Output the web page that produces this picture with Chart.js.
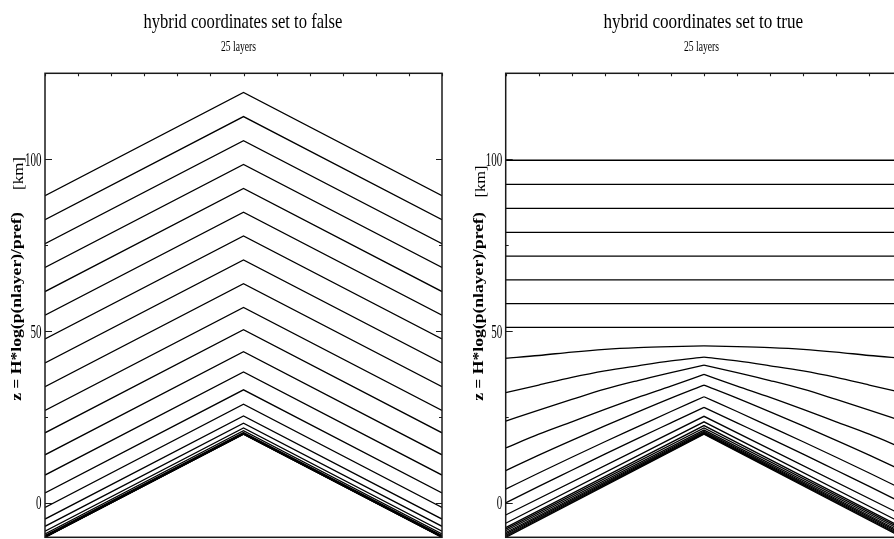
<!DOCTYPE html>
<html>
<head>
<meta charset="utf-8">
<script src="https://cdn.jsdelivr.net/npm/chart.js@4.4.1/dist/chart.umd.min.js"></script>
<style>
  html, body { margin: 0; padding: 0; background: #fff; overflow: hidden; }
  #wrap { position: relative; width: 894px; height: 539px; overflow: hidden; background: #fff; }
  .cv { position: absolute; top: 0; }
  .txt { position: absolute; white-space: nowrap; line-height: 1; color: #000;
         font-family: "Liberation Serif", "Times New Roman", serif; transform-origin: 50% 50%; }
  .ylab { font-weight: bold; font-size: 15px; }
  .ykm { font-size: 17px; }
</style>
</head>
<body>
<div id="wrap">
  <canvas id="c1" class="cv" width="460" height="539" style="left:0px;width:460px;height:539px"></canvas>
  <canvas id="c2" class="cv" width="460" height="539" style="left:462px;width:460px;height:539px"></canvas>
  <div class="txt" id="t1" style="font-size:22px">hybrid coordinates set to false</div>
  <div class="txt" id="s1" style="font-size:14px">25 layers</div>
  <div class="txt" id="t2" style="font-size:22px">hybrid coordinates set to true</div>
  <div class="txt" id="s2" style="font-size:14px">25 layers</div>
  <div class="txt ylab" id="yl1">z = H*log(p(nlayer)/pref)</div>
  <div class="txt ykm" id="yk1">[km]</div>
  <div class="txt ylab" id="yl2">z = H*log(p(nlayer)/pref)</div>
  <div class="txt ykm" id="yk2">[km]</div>
</div>
<script>
// ---------------- data ----------------
const TITLE_LEFT = "hybrid coordinates set to false";
const TITLE_RIGHT = "hybrid coordinates set to true";
const SUBTITLE = "25 layers";
const Y_AXIS_LABEL = "z = H*log(p(nlayer)/pref)";
const Y_AXIS_UNIT = "[km]";

const Y_MIN = -10, Y_MAX = 125;
const X_MIN = 0, X_MAX = 12;
const Y_MAJOR_TICKS = [0, 50, 100];
const Y_MINOR_TICKS = [25, 75];
const X_TICKS = [0, 1, 2, 3, 4, 5, 6, 7, 8, 9, 10, 11, 12];

// x positions: edge / centre / edge, and the two halves for curved lines
const X_EDGE_PEAK = [0, 6, 12];
const X_LEFT_HALF = [0, 1, 2, 3, 4, 5, 6];
const X_RIGHT_HALF = [6, 7, 8, 9, 10, 11, 12];

// left panel (hybrid = false): 25 layer interfaces, values at x = 0, 6, 12
const LEFT_LINES = [
  [89.4, 119.4, 89.4],
  [82.4, 112.4, 82.4],
  [75.4, 105.4, 75.4],
  [68.5, 98.5, 68.5],
  [61.5, 91.5, 61.5],
  [54.6, 84.6, 54.6],
  [47.7, 77.7, 47.7],
  [40.7, 70.7, 40.7],
  [33.8, 63.8, 33.8],
  [26.9, 56.9, 26.9],
  [20.4, 50.4, 20.4],
  [14.0, 44.0, 14.0],
  [8.1, 38.1, 8.1],
  [2.9, 32.9, 2.9],
  [-1.3, 28.7, -1.3],
  [-4.7, 25.3, -4.7],
  [-6.8, 23.2, -6.8],
  [-8.2, 21.8, -8.2],
  [-9.0, 21.0, -9.0],
  [-9.5, 20.5, -9.5],
  [-9.75, 20.25, -9.75],
  [-9.88, 20.12, -9.88],
  [-9.95, 20.05, -9.95],
  [-9.98, 20.02, -9.98],
  [-10, 20, -10]
];

// right panel (hybrid = true): flat pressure levels, values at x = 0, 6, 12
const RIGHT_FLAT = [
  [99.7, 99.7, 99.7],
  [92.7, 92.7, 92.7],
  [85.7, 85.7, 85.7],
  [78.7, 78.7, 78.7],
  [71.8, 71.8, 71.8],
  [64.9, 64.9, 64.9],
  [58.0, 58.0, 58.0],
  [51.1, 51.1, 51.1]
];
// right panel: transition levels, values at x = 0..12
const RIGHT_CURVED = [
  [42.1, 42.9, 43.9, 44.7, 45.2, 45.5, 45.7, 45.5, 45.2, 44.7, 43.9, 42.9, 42.1],
  [32.1, 34.3, 36.5, 38.4, 39.9, 41.3, 42.4, 41.3, 39.9, 38.4, 36.5, 34.3, 32.1],
  [23.8, 27.0, 30.1, 33.1, 35.6, 37.9, 40.1, 37.9, 35.6, 33.1, 30.1, 27.0, 23.8],
  [16.0, 20.0, 23.6, 27.2, 30.7, 34.0, 37.4, 34.0, 30.7, 27.2, 23.6, 20.0, 16.0],
  [9.4, 13.9, 18.2, 22.4, 26.5, 30.5, 34.3, 30.5, 26.5, 22.4, 18.2, 13.9, 9.4],
  [4.0, 8.7, 13.3, 17.8, 22.2, 26.6, 30.9, 26.6, 22.2, 17.8, 13.3, 8.7, 4.0],
  [0.0, 4.8, 9.5, 14.2, 18.8, 23.3, 27.8, 23.3, 18.8, 14.2, 9.5, 4.8, 0.0]
];
// right panel: terrain-following levels, values at x = 0, 6, 12
const RIGHT_STRAIGHT = [
  [-3.5, 25.2, -3.5],
  [-5.9, 23.6, -5.9],
  [-7.2, 22.5, -7.2],
  [-7.6, 21.8, -7.6],
  [-8.1, 21.2, -8.1],
  [-8.6, 20.8, -8.6],
  [-9.0, 20.5, -9.0],
  [-9.4, 20.3, -9.4],
  [-9.7, 20.15, -9.7],
  [-10, 20, -10]
];

// ---------------- helpers ----------------
function pts(xs, ys) { return xs.map((x, i) => ({ x: x, y: ys[i] })); }
function lineDs(data, curved) {
  return {
    data: data, borderColor: '#000', borderWidth: 1.3, pointRadius: 0,
    fill: false, tension: 0, cubicInterpolationMode: curved ? 'monotone' : 'default'
  };
}

const framePlugin = {
  id: 'frame',
  afterDraw(chart) {
    const ctx = chart.ctx, a = chart.chartArea, xs = chart.scales.x, ys = chart.scales.y;
    ctx.save();
    ctx.strokeStyle = '#1a1a1a';
    ctx.lineWidth = 1.5;
    ctx.strokeRect(a.left, a.top, a.right - a.left, a.bottom - a.top);
    ctx.lineWidth = 1.1;
    ctx.beginPath();
    Y_MAJOR_TICKS.forEach(v => {
      const py = Math.round(ys.getPixelForValue(v)) + 0.5;
      ctx.moveTo(a.left, py); ctx.lineTo(a.left + 7, py);
      ctx.moveTo(a.right, py); ctx.lineTo(a.right - 6, py);
    });
    Y_MINOR_TICKS.forEach(v => {
      const py = Math.round(ys.getPixelForValue(v)) + 0.5;
      ctx.moveTo(a.left, py); ctx.lineTo(a.left + 3, py);
      ctx.moveTo(a.right, py); ctx.lineTo(a.right - 3, py);
    });
    X_TICKS.forEach(v => {
      const px = Math.round(xs.getPixelForValue(v)) + 0.5;
      ctx.moveTo(px, a.top); ctx.lineTo(px, a.top + 3);
    });
    ctx.stroke();
    ctx.fillStyle = '#000';
    ctx.font = '19px "Liberation Serif"';
    ctx.textAlign = 'right';
    ctx.textBaseline = 'middle';
    Y_MAJOR_TICKS.forEach(v => {
      const py = ys.getPixelForValue(v);
      ctx.save();
      ctx.translate(a.left - 3.5, py + 1.5);
      ctx.scale(0.58, 1);
      ctx.fillText(String(v), 0, 0);
      ctx.restore();
    });
    ctx.restore();
  }
};

function makeChart(id, datasets, pad) {
  return new Chart(document.getElementById(id), {
    type: 'line',
    data: { datasets: datasets },
    options: {
      responsive: false,
      animation: false,
      events: [],
      layout: { padding: pad },
      plugins: { legend: { display: false }, tooltip: { enabled: false }, title: { display: false } },
      scales: {
        x: { type: 'linear', min: X_MIN, max: X_MAX, display: false },
        y: { type: 'linear', min: Y_MIN, max: Y_MAX, display: false }
      }
    },
    plugins: [framePlugin]
  });
}

// left chart
const leftDs = LEFT_LINES.map(v => lineDs(pts(X_EDGE_PEAK, v), false));
makeChart('c1', leftDs, { left: 45, right: 18, top: 73.3, bottom: 1.7 });

// right chart
const rightDs = [];
RIGHT_FLAT.forEach(v => rightDs.push(lineDs(pts(X_EDGE_PEAK, v), false)));
RIGHT_CURVED.forEach(v => {
  rightDs.push(lineDs(pts(X_LEFT_HALF, v.slice(0, 7)), true));
  rightDs.push(lineDs(pts(X_RIGHT_HALF, v.slice(6)), true));
});
RIGHT_STRAIGHT.forEach(v => rightDs.push(lineDs(pts(X_EDGE_PEAK, v), false)));
makeChart('c2', rightDs, { left: 43.7, right: 19.7, top: 73.3, bottom: 1.7 });

// ---------------- text placement ----------------
function placeH(id, text, cx, top, width) {
  const el = document.getElementById(id);
  el.textContent = text;
  const w = el.offsetWidth;
  el.style.left = (cx - w / 2) + 'px';
  el.style.top = top + 'px';
  el.style.transform = 'scaleX(' + (width / w) + ')';
}
function placeV(id, text, cx, cy, len, thick) {
  const el = document.getElementById(id);
  el.textContent = text;
  const w = el.offsetWidth, h = el.offsetHeight;
  el.style.left = (cx - w / 2) + 'px';
  el.style.top = (cy - h / 2) + 'px';
  el.style.transform = 'rotate(-90deg) scale(' + (len / w) + ',' + thick + ')';
}
placeH('t1', TITLE_LEFT, 242.5, 9.9, 199);
placeH('s1', SUBTITLE, 238, 39.5, 35);
placeH('t2', TITLE_RIGHT, 703, 9.9, 200);
placeH('s2', SUBTITLE, 701, 39.5, 35);
placeV('yl1', Y_AXIS_LABEL, 16.7, 306, 189, 0.92);
placeV('yk1', Y_AXIS_UNIT, 18.3, 173.5, 33, 0.9);
placeV('yl2', Y_AXIS_LABEL, 478.5, 306, 189, 0.92);
placeV('yk2', Y_AXIS_UNIT, 480.5, 181, 32, 0.9);
</script>
</body>
</html>
